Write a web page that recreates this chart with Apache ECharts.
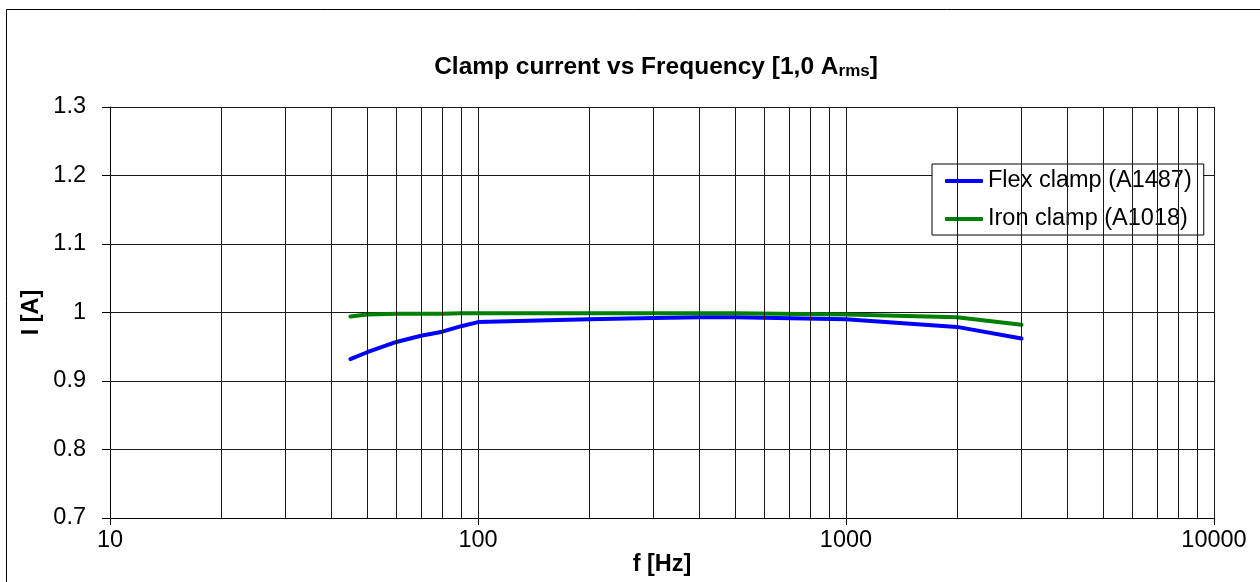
<!DOCTYPE html>
<html>
<head>
<meta charset="utf-8">
<script src="https://cdn.jsdelivr.net/npm/echarts@6/dist/echarts.min.js"></script>
<style>
html,body{margin:0;padding:0;background:#fff;}
#chart{width:1260px;height:582px;}
</style>
</head>
<body>
<div id="chart"></div>
<script>
// ---- data ----
const frequencies = [45, 50, 60, 70, 80, 90, 100, 200, 300, 400, 500, 1000, 2000, 3000];
const flexClamp   = [0.932, 0.942, 0.957, 0.966, 0.972, 0.980, 0.986, 0.990, 0.992, 0.993, 0.993, 0.990, 0.979, 0.962];
const ironClamp   = [0.994, 0.997, 0.998, 0.998, 0.998, 0.999, 0.999, 0.999, 0.999, 0.999, 0.999, 0.997, 0.993, 0.982];
const seriesNames = ['Flex clamp (A1487)', 'Iron clamp (A1018)'];
const minorGridFreqs = [20,30,40,50,60,70,80,90,200,300,400,500,600,700,800,900,2000,3000,4000,5000,6000,7000,8000,9000];

const FONT = '"Liberation Sans", Arial, sans-serif';
const FS = 23.5;
const chart = echarts.init(document.getElementById('chart'), null, {renderer: 'canvas'});

function pairs(xs, ys){ return xs.map((x,i)=>[x, ys[i]]); }

const option = {
  backgroundColor: '#fff',
  animation: false,
  graphic: [{
    type: 'rect', silent: true, z: -1,
    shape: {x: 6.5, y: 9.5, width: 1400, height: 800},
    style: {fill: 'none', stroke: '#000', lineWidth: 1}
  }],
  title: {
    text: 'Clamp current vs Frequency [1,0 A{sub|rms}]',
    left: 651, textAlign: 'center', top: 50,
    textStyle: {
      fontFamily: FONT, fontSize: 24.5, fontWeight: 'bold', color: '#000',
      rich: {sub: {fontFamily: FONT, fontSize: 17, fontWeight: 'bold', color: '#000', verticalAlign: 'bottom'}}
    }
  },
  legend: {
    data: seriesNames,
    orient: 'vertical',
    left: 932, top: 164,
    padding: [5, 12, 4, 13],
    itemGap: 14,
    itemWidth: 38, itemHeight: 4,
    itemTextGap: 4,
    icon: 'roundRect',
    backgroundColor: '#fff',
    borderColor: '#000', borderWidth: 1, borderRadius: 0,
    textStyle: {fontFamily: FONT, fontSize: FS, color: '#000', lineHeight: 24}
  },
  grid: {left: 110, top: 107, right: 46, bottom: 64, containLabel: false, outerBoundsMode: 'none'},
  xAxis: {
    type: 'log', logBase: 10, min: 10, max: 10000,
    name: 'f [Hz]', nameLocation: 'middle', nameGap: 35, nameMoveOverlap: false,
    nameTextStyle: {fontFamily: FONT, fontSize: FS, fontWeight: 'bold', color: '#000'},
    axisLine: {show: true, lineStyle: {color: '#000', width: 1}},
    axisTick: {show: true, inside: false, length: 7, lineStyle: {color: '#000'}},
    axisLabel: {fontFamily: FONT, fontSize: FS, color: '#000', margin: 11,
      formatter: v => String(Math.round(v))},
    splitLine: {show: true, lineStyle: {color: '#1a1a1a', width: 1}},
    minorTick: {show: false}, minorSplitLine: {show: false}
  },
  yAxis: {
    type: 'value', min: 0.7, max: 1.3, interval: 0.1,
    name: 'I [A]', nameLocation: 'middle', nameGap: 66, nameRotate: 90, nameMoveOverlap: false,
    nameTextStyle: {fontFamily: FONT, fontSize: FS, fontWeight: 'bold', color: '#000'},
    axisLine: {show: true, lineStyle: {color: '#000', width: 1}},
    axisTick: {show: true, inside: false, length: 8, lineStyle: {color: '#000'}},
    axisLabel: {fontFamily: FONT, fontSize: FS, color: '#000', margin: 24,
      formatter: v => String(Math.round(v * 10) / 10)},
    splitLine: {show: true, lineStyle: {color: '#1a1a1a', width: 1}}
  },
  series: [
    {
      name: '__minorGrid', type: 'line', data: [[10, 0.7]], symbol: 'none',
      lineStyle: {opacity: 0}, silent: true, z: 1, legendHoverLink: false,
      markLine: {
        silent: true, symbol: ['none', 'none'], animation: false,
        label: {show: false},
        lineStyle: {color: '#1a1a1a', width: 1, type: 'solid'},
        data: minorGridFreqs.map(f => ({xAxis: f}))
      }
    },
    {
      name: seriesNames[0], type: 'line', data: pairs(frequencies, flexClamp),
      symbol: 'none', smooth: false, z: 3,
      itemStyle: {color: '#0000ff'},
      lineStyle: {color: '#0000ff', width: 4, cap: 'round', join: 'round'}
    },
    {
      name: seriesNames[1], type: 'line', data: pairs(frequencies, ironClamp),
      symbol: 'none', smooth: false, z: 3,
      itemStyle: {color: '#008000'},
      lineStyle: {color: '#008000', width: 4, cap: 'round', join: 'round'}
    }
  ]
};
chart.setOption(option);
</script>
</body>
</html>
